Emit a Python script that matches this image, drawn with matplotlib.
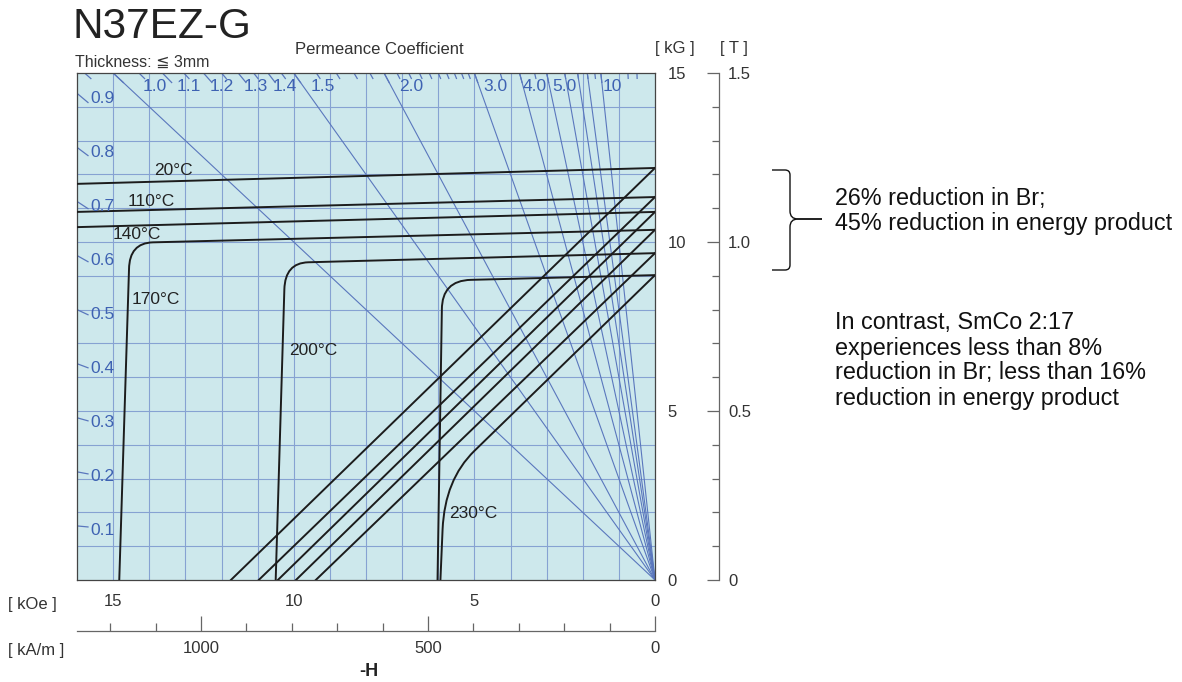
import numpy as np
import matplotlib
matplotlib.use('Agg')
import matplotlib.pyplot as plt
from matplotlib.path import Path
from matplotlib.patches import PathPatch
from matplotlib.ticker import MultipleLocator, FixedLocator

plt.rcParams['font.family'] = ['Liberation Sans', 'DejaVu Sans']

# ---------------- data (H in kOe as magnitude of -H, B in kG) ----------------
temps = ['20°C', '110°C', '140°C', '170°C', '200°C', '230°C']
br_kG = [12.19, 11.33, 10.89, 10.36, 9.67, 9.02]
# intrinsic curves without knee inside the chart: value at left edge (H = 16 kOe)
j_left_kG = [11.72, 10.89, 10.44]            # 20, 110, 140 °C
# intrinsic curves with knee: start, corner start, corner control, corner end, Hcj
j170 = [(0, 10.36), (13.9, 9.99), (14.55, 9.97), (14.56, 9.2), (14.83, 0)]
j200 = [(0, 9.67), (9.6, 9.40), (10.24, 9.38), (10.26, 8.6), (10.50, 0)]
j230 = [(0, 9.02), (5.1, 8.88), (5.9, 8.86), (5.9, 8.0), (6.02, 0)]
# normal (B) curves: H where B reaches 0 (straight ones)
b_zero_kOe = [11.74, 10.97, 10.44, 9.94, 9.39]   # 20..200 °C
b230 = [(0, 9.02), (5.0, 3.82), (5.82, 2.97), (5.88, 1.5), (5.94, 0)]

# permeance coefficient lines / scale
pc_lines = [1.0, 1.5, 2.0, 3.0, 4.0, 5.0, 6.0, 7.0, 8.0, 10.0]
pc_top_major = [1.0, 1.1, 1.2, 1.3, 1.4, 1.5, 2.0, 3.0, 4.0, 5.0, 10.0]
pc_top_labels = ['1.0', '1.1', '1.2', '1.3', '1.4', '1.5', '2.0', '3.0', '4.0', '5.0', '10']
pc_top_minor = [0.95, 1.05, 1.15, 1.25, 1.35, 1.45, 1.6, 1.7, 1.8, 1.9,
                2.1, 2.2, 2.3, 2.4, 2.5, 2.6, 2.7, 2.8, 2.9, 3.5, 4.5,
                6.0, 7.0, 8.0, 9.0, 20.0, 30.0]
pc_left = [0.1, 0.2, 0.3, 0.4, 0.5, 0.6, 0.7, 0.8, 0.9]
pc_left_labels = ['0.1', '0.2', '0.3', '0.4', '0.5', '0.6', '0.7', '0.8', '0.9']

kOe_ticks = [15, 10, 5, 0]
kG_ticks = [0, 5, 10, 15]
T_ticks = [0, 0.5, 1.0, 1.5]
T_labels = ['0', '0.5', '1.0', '1.5']
kAm_ticks = [0, 500, 1000]

# ---------------- layout / style ----------------
W, H = 1182, 682
H_MAX, B_MAX = 16.0, 15.0
BG = '#cde8ec'
GRID = '#86a2d2'
BLUE_LINE = '#5a77bd'
BLUE_TXT = '#3e62b2'
BLACK = '#1c1c1c'
AXC = '#444444'

top_label_dx = [30, 14, 6, 5, 5, 17, 15, 9, 3, 6, 2]   # px offsets of labels from tick
temp_label_pos = [(13.34, 12.13), (13.95, 11.21), (14.35, 10.21),
                  (13.81, 8.31), (9.47, 6.78), (5.04, 1.98)]

fig = plt.figure(figsize=(W / 100, H / 100), dpi=100)
px_l, px_r, px_t, px_b = 77, 655, 73, 580
ax = fig.add_axes([px_l / W, 1 - px_b / H, (px_r - px_l) / W, (px_b - px_t) / H])
ax.set_xlim(H_MAX, 0)
ax.set_ylim(0, B_MAX)
ax.set_facecolor(BG)

# grid
for h in range(1, 16):
    ax.axvline(h, color=GRID, lw=0.8, zorder=1)
for b in range(1, 15):
    ax.axhline(b, color=GRID, lw=0.8, zorder=1)

# permeance lines from origin
for pc in pc_lines:
    if B_MAX / pc <= H_MAX:
        end = (B_MAX / pc, B_MAX)
    else:
        end = (H_MAX, H_MAX * pc)
    ax.plot([0, end[0]], [0, end[1]], color=BLUE_LINE, lw=0.8, zorder=2)

# top permeance ticks (slanted, along line direction)
def top_tick(pc, drop_px):
    h = B_MAX / pc
    f = drop_px / (B_MAX * 33.8)
    ax.plot([h, h * (1 - f)], [B_MAX, B_MAX * (1 - f)], color=BLUE_LINE, lw=0.9,
            zorder=2, solid_capstyle='butt')

for pc in pc_top_major:
    top_tick(pc, 10)
for pc in pc_top_minor:
    top_tick(pc, 6)
for pc, lab, dx in zip(pc_top_major, pc_top_labels, top_label_dx):
    ax.annotate(lab, xy=(B_MAX / pc, B_MAX), xytext=(dx, -13), textcoords='offset pixels',
                ha='left', va='center', color=BLUE_TXT, fontsize=12.5, zorder=5)

# left permeance ticks + labels
for pc, lab in zip(pc_left, pc_left_labels):
    f = 11 / (H_MAX * 36.125)
    ax.plot([H_MAX, H_MAX * (1 - f)], [H_MAX * pc, H_MAX * pc * (1 - f)], color=BLUE_LINE,
            lw=0.9, zorder=2)
    ax.annotate(lab, xy=(H_MAX, H_MAX * pc), xytext=(13, -5), textcoords='offset pixels',
                ha='left', va='center', color=BLUE_TXT, fontsize=12.5, zorder=5)

# intrinsic curves
for br, jl in zip(br_kG[:3], j_left_kG):
    ax.plot([0, H_MAX], [br, jl], color=BLACK, lw=1.4, zorder=4)

codes = [Path.MOVETO, Path.LINETO, Path.CURVE3, Path.CURVE3, Path.LINETO]
for pts in (j170, j200, j230, b230):
    ax.add_patch(PathPatch(Path(pts, codes), fill=False, edgecolor=BLACK, lw=1.4, zorder=4))

# normal curves
for br, h0 in zip(br_kG[:5], b_zero_kOe):
    ax.plot([0, h0], [br, 0], color=BLACK, lw=1.4, zorder=4)

# temperature labels
for t, (hx, by) in zip(temps, temp_label_pos):
    ax.text(hx, by, t, ha='center', va='center', fontsize=12.5, color='#222222', zorder=6)

# axes appearance
for s in ax.spines.values():
    s.set_color(AXC)
    s.set_linewidth(0.9)
ax.set_xticks(kOe_ticks)
ax.set_xticklabels([str(v) for v in kOe_ticks])
ax.yaxis.tick_right()
ax.set_yticks(kG_ticks)
ax.set_yticklabels([str(v) for v in kG_ticks])
ax.tick_params(axis='x', length=0, pad=10, labelsize=12, labelcolor='#333333')
ax.tick_params(axis='y', length=0, pad=9, labelsize=12, labelcolor='#333333')
for lab in ax.get_yticklabels():
    lab.set_horizontalalignment('left')

# Tesla axis
secy = ax.secondary_yaxis(1 + (719 - px_r) / (px_r - px_l),
                          functions=(lambda b: b / 10.0, lambda t: t * 10.0))
secy.set_yticks(T_ticks)
secy.set_yticklabels(T_labels)
secy.yaxis.set_minor_locator(MultipleLocator(0.1))
secy.tick_params(which='major', direction='in', length=9, width=0.9, color='#666666',
                 pad=6.5, labelsize=12, labelcolor='#333333')
secy.tick_params(which='minor', direction='in', length=5, width=0.9, color='#666666')
for s in secy.spines.values():
    s.set_color('#666666')
    s.set_linewidth(0.9)

# kA/m axis
secx = ax.secondary_xaxis(-(631 - px_b) / (px_b - px_t),
                          functions=(lambda h: h * 1000.0 / (4 * np.pi),
                                     lambda k: k * 4 * np.pi / 1000.0))
secx.set_xticks(kAm_ticks)
secx.set_xticklabels([str(v) for v in kAm_ticks])
secx.xaxis.set_minor_locator(FixedLocator(list(range(100, 1300, 100))))
secx.tick_params(which='major', direction='in', length=11, width=0.9, color='#666666',
                 pad=7, labelsize=12, labelcolor='#333333')
secx.tick_params(which='minor', direction='in', length=6, width=0.9, color='#666666')
for s in secx.spines.values():
    s.set_color('#666666')
    s.set_linewidth(0.9)

# figure texts
def ftext(x, y, s, **kw):
    fig.text(x / W, 1 - y / H, s, **kw)

ftext(73, 27, 'N37EZ-G', fontsize=30.5, va='center', ha='left', color='#222222')
ftext(75, 62, 'Thickness: ≦ 3mm', fontsize=11.5, va='center', ha='left', color='#333333')
ftext(295, 50, 'Permeance Coefficient', fontsize=12, va='center', ha='left', color='#333333')
ftext(655, 48, '[ kG ]', fontsize=12, va='center', ha='left', color='#333333')
ftext(720, 48, '[ T ]', fontsize=12, va='center', ha='left', color='#333333')
ftext(8, 604, '[ kOe ]', fontsize=12, va='center', ha='left', color='#333333')
ftext(8, 650, '[ kA/m ]', fontsize=12, va='center', ha='left', color='#333333')
ftext(369, 672, '-H', fontsize=13, va='center', ha='center', weight='bold', color='#222222')

RFS = 16.8
ftext(835, 198, '26% reduction in Br;', fontsize=RFS, va='center', ha='left', color='#111111')
ftext(835, 224, '45% reduction in energy product', fontsize=RFS, va='center', ha='left', color='#111111')
lines = ['In contrast, SmCo 2:17', 'experiences less than 8%',
         'reduction in Br; less than 16%', 'reduction in energy product']
for i, s in enumerate(lines):
    ftext(835, 323 + 25 * i, s, fontsize=RFS, va='center', ha='left', color='#111111')

# brace
def fp(x, y):
    return (x / W, 1 - y / H)

for y0, sgn in ((170, 1), (270, -1)):
    verts = [fp(772, y0), fp(785, y0), fp(790, y0), fp(790, y0 + 5 * sgn),
             fp(790, 219 - 8 * sgn), fp(790, 219), fp(798, 219), fp(822, 219)]
    cds = [Path.MOVETO, Path.LINETO, Path.CURVE3, Path.CURVE3, Path.LINETO,
           Path.CURVE3, Path.CURVE3, Path.LINETO]
    fig.add_artist(PathPatch(Path(verts, cds), fill=False, edgecolor='#111111', lw=1.0,
                             transform=fig.transFigure))

fig.savefig('out.png', dpi=100)
